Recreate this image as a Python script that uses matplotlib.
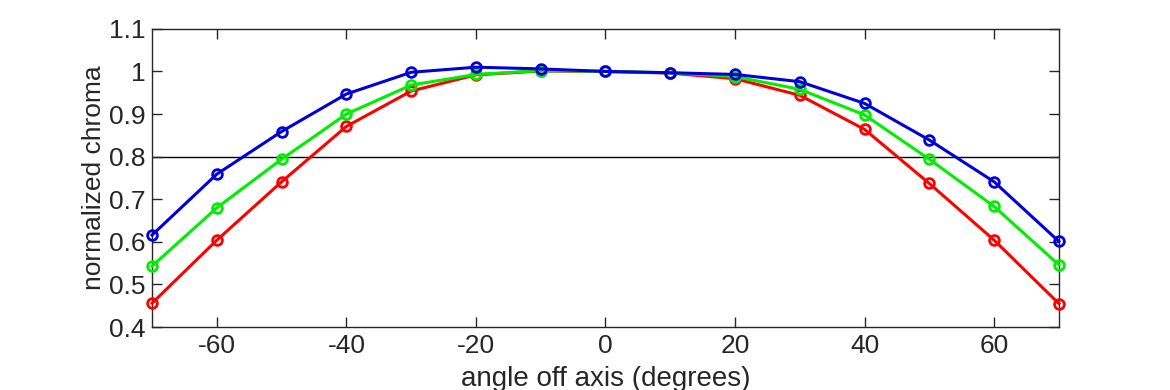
import matplotlib
matplotlib.use("Agg")
import matplotlib.pyplot as plt

# angles off axis and normalized chroma per channel
angles = [-70, -60, -50, -40, -30, -20, -10, 0, 10, 20, 30, 40, 50, 60, 70]
red = [0.456, 0.604, 0.741, 0.871, 0.954, 0.992, 1.001, 1.0, 0.996, 0.983, 0.944, 0.864, 0.737, 0.604, 0.455]
green = [0.543, 0.680, 0.794, 0.900, 0.968, 0.993, 1.002, 1.0, 0.997, 0.988, 0.958, 0.898, 0.794, 0.683, 0.546]
blue = [0.616, 0.759, 0.859, 0.947, 0.998, 1.010, 1.006, 1.0, 0.997, 0.993, 0.976, 0.925, 0.839, 0.741, 0.601]
threshold = 0.8

xticks = [-60, -40, -20, 0, 20, 40, 60]
yticks = [0.4, 0.5, 0.6, 0.7, 0.8, 0.9, 1.0, 1.1]
ytick_labels = ["0.4", "0.5", "0.6", "0.7", "0.8", "0.9", "1", "1.1"]

plt.rcParams['font.family'] = ['Liberation Sans', 'DejaVu Sans']
plt.rcParams['axes.unicode_minus'] = False

fig = plt.figure(figsize=(11.7, 3.9), dpi=100)
ax = fig.add_axes([0.13, 0.1615, 0.775, 0.7645])

ax.axhline(threshold, color='black', lw=1.0, zorder=1)

for vals, col in [(red, '#ff0000'), (green, '#00ee00'), (blue, '#0000dd')]:
    ax.plot(angles, vals, color=col, lw=2.2, marker='o', markersize=7,
            markerfacecolor='none', markeredgewidth=2.0, zorder=3, clip_on=False)

ax.set_xlim(-70, 70)
ax.set_ylim(0.4, 1.1)
ax.set_xticks(xticks)
ax.set_yticks(yticks)
ax.set_yticklabels(ytick_labels)
ax.tick_params(direction='in', top=True, right=True, length=7, width=1,
               labelsize=19, colors='#262626', pad=5)
for s in ax.spines.values():
    s.set_color('#262626')
    s.set_linewidth(1)

ax.set_xlabel('angle off axis (degrees)', fontsize=20, color='#262626', labelpad=6)
ax.set_ylabel('normalized chroma', fontsize=19, color='#262626', labelpad=2)

fig.savefig('out.png', dpi=100)
